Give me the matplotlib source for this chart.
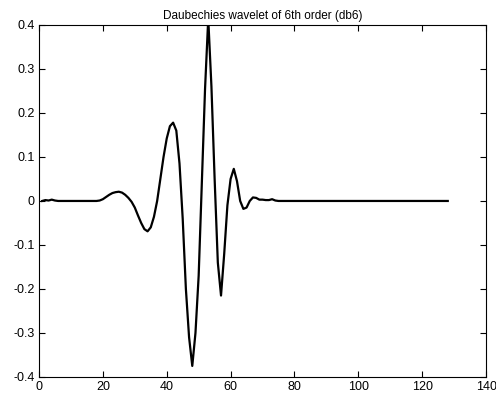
import matplotlib.pyplot as plt
import numpy as np
from matplotlib.ticker import FuncFormatter, MultipleLocator

plt.switch_backend('agg')

# sample index and wavelet values
x_idx = list(range(1, 129))
psi_head = [0.0, 0.002, 0.001, 0.003, 0.001, 0.0, 0.0, 0.0, 0.0, 0.0,
            0.0, 0.0, 0.0, 0.0, 0.0, 0.0, 0.0, 0.0, 0.001, 0.004,
            0.009, 0.014, 0.018, 0.020, 0.021, 0.019, 0.014, 0.007, -0.002, -0.015,
            -0.033, -0.050, -0.064, -0.069, -0.060, -0.036, 0.0, 0.050, 0.100, 0.142,
            0.170, 0.178, 0.160, 0.085, -0.040, -0.200, -0.310, -0.375, -0.300, -0.170,
            0.040, 0.255, 0.415, 0.260, 0.050, -0.140, -0.215, -0.120, -0.010, 0.050,
            0.073, 0.045, 0.0, -0.018, -0.015, 0.0, 0.008, 0.007, 0.003, 0.003,
            0.002, 0.002, 0.004, 0.001]
psi_tail = [0.0] * (len(x_idx) - len(psi_head))
psi = psi_head + psi_tail

x_ticks = [0, 20, 40, 60, 80, 100, 120, 140]
title = 'Daubechies wavelet of 6th order (db6)'

plt.rcParams['font.family'] = ['Liberation Sans', 'DejaVu Sans']
fig = plt.figure(figsize=(4.96, 4.01), dpi=100)
ax = fig.add_axes([0.0786, 0.06, 0.9014, 0.8777])

ax.plot(x_idx, psi, color='black', linewidth=1.6)
ax.set_xlim(0, 140)
ax.set_ylim(-0.4, 0.4)
ax.set_xticks(x_ticks)
ax.yaxis.set_major_locator(MultipleLocator(0.1))

def fmt(v, pos):
    return '%g' % round(v, 2)

ax.yaxis.set_major_formatter(FuncFormatter(fmt))
ax.tick_params(direction='in', length=4, width=0.8, top=True, right=True,
               labelsize=9, pad=3)
for s in ax.spines.values():
    s.set_linewidth(0.8)
ax.set_title(title, fontsize=8.5, pad=4)

plt.savefig('out.png', dpi=100)
